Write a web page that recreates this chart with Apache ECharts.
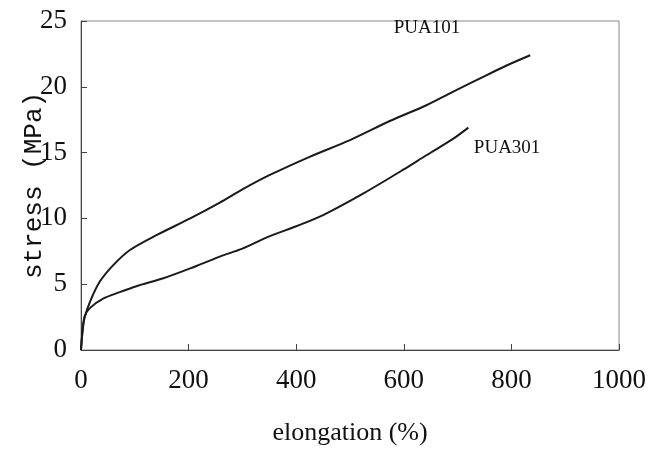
<!DOCTYPE html>
<html>
<head>
<meta charset="utf-8">
<script src="https://cdn.jsdelivr.net/npm/echarts@6/dist/echarts.min.js"></script>
<style>
  html, body { margin: 0; padding: 0; background: #fff; }
  #chart { width: 649px; height: 454px; }
</style>
</head>
<body>
<div id="chart"></div>
<script>
// Stress–strain curves (elongation %, stress MPa)
const pua101Elong = [0, 3, 7, 17, 35, 60, 91, 141, 203, 258, 300, 351, 426, 500, 574, 642, 690, 735, 790, 835];
const pua101Stress = [0, 1.5, 2.5, 3.7, 5.2, 6.45, 7.6, 8.74, 10.0, 11.2, 12.2, 13.3, 14.7, 15.95, 17.4, 18.6, 19.6, 20.5, 21.6, 22.4];

const pua301Elong = [0, 3, 7, 17, 41, 72, 103, 153, 203, 258, 300, 351, 400, 450, 525, 599, 642, 690, 720];
const pua301Stress = [0, 1.5, 2.6, 3.2, 3.9, 4.4, 4.85, 5.45, 6.2, 7.1, 7.7, 8.65, 9.4, 10.25, 11.9, 13.7, 14.8, 16.0, 16.9];

const seriesNames = ['PUA101', 'PUA301'];
// label anchor points in data units
const labelPos = [[643, 24.5], [792, 15.35]];

const xTicks = { min: 0, max: 1000, step: 200 };
const yTicks = { min: 0, max: 25, step: 5 };

function pairs(xs, ys) { return xs.map((x, i) => [x, ys[i]]); }

const chart = echarts.init(document.getElementById('chart'), null, { renderer: 'canvas' });

const serif = '"Liberation Serif", "DejaVu Serif", serif';

function curve(name, data, pos) {
  return {
    name: name,
    type: 'line',
    data: data,
    showSymbol: false,
    smooth: 0.3,
    lineStyle: { color: '#1a1a1a', width: 2 },
    animation: false,
    markPoint: {
      symbol: 'circle',
      symbolSize: 0,
      data: [{ coord: pos }],
      label: {
        show: true,
        formatter: name,
        position: 'inside',
        color: '#111',
        fontFamily: serif,
        fontSize: 19
      }
    }
  };
}

chart.setOption({
  backgroundColor: '#fff',
  animation: false,
  grid: {
    left: 81, right: 30, top: 21, bottom: 104,
    outerBoundsMode: 'none',
    containLabel: false,
    show: true, borderColor: '#888', borderWidth: 1
  },
  xAxis: {
    type: 'value',
    min: xTicks.min, max: xTicks.max, interval: xTicks.step,
    name: 'elongation (%)',
    nameLocation: 'middle',
    nameGap: 70,
    nameMoveOverlap: false,
    nameTextStyle: { fontFamily: serif, fontSize: 26, color: '#111' },
    axisLine: { lineStyle: { color: '#444', width: 1 } },
    axisTick: { inside: true, length: 6, lineStyle: { color: '#444' } },
    axisLabel: { fontFamily: serif, fontSize: 27, color: '#111', margin: 17, formatter: v => String(v) },
    splitLine: { show: false }
  },
  yAxis: {
    type: 'value',
    min: yTicks.min, max: yTicks.max, interval: yTicks.step,
    name: 'stress (MPa)',
    nameLocation: 'middle',
    nameGap: 34,
    nameRotate: 90,
    nameMoveOverlap: false,
    nameTextStyle: { fontFamily: '"Liberation Mono", "DejaVu Sans Mono", monospace', fontSize: 26, color: '#111' },
    axisLine: { show: true, lineStyle: { color: '#444', width: 1 } },
    axisTick: { show: true, inside: true, length: 6, lineStyle: { color: '#444' } },
    axisLabel: { fontFamily: serif, fontSize: 27, color: '#111', margin: 14 },
    splitLine: { show: false }
  },
  series: [
    curve(seriesNames[0], pairs(pua101Elong, pua101Stress), labelPos[0]),
    curve(seriesNames[1], pairs(pua301Elong, pua301Stress), labelPos[1])
  ]
});
</script>
</body>
</html>
